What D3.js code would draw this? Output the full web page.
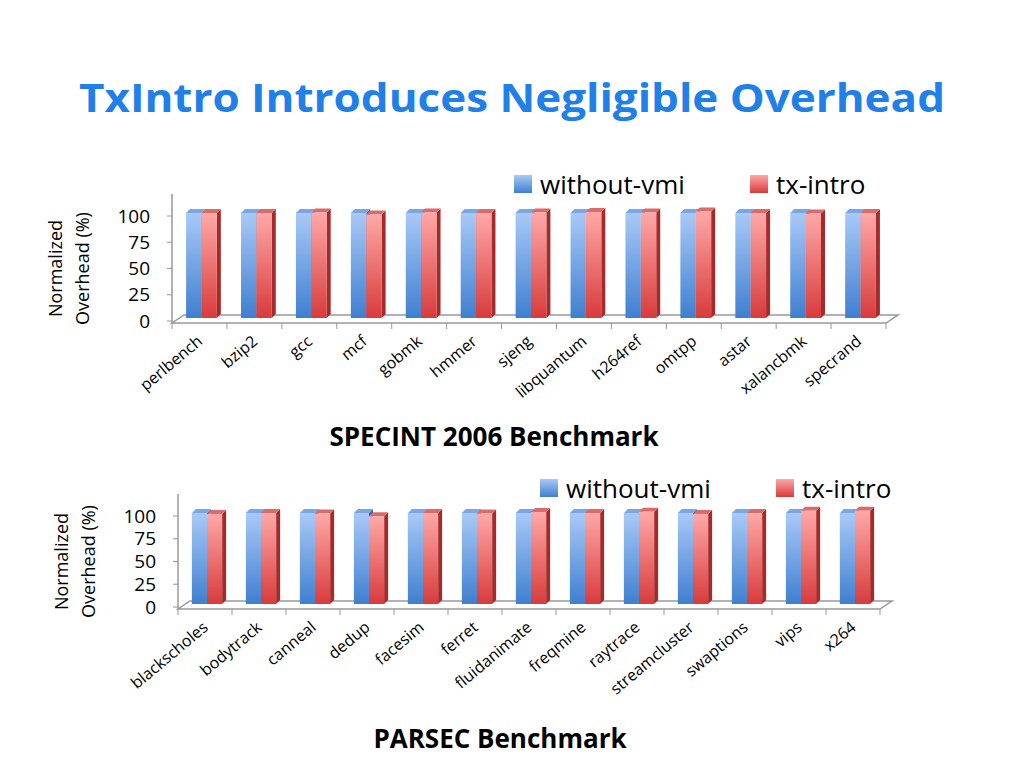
<!DOCTYPE html>
<html><head><meta charset="utf-8">
<script src="https://cdn.jsdelivr.net/npm/d3@7"></script>
<style>body{margin:0;background:#fff}svg{font-family:"Open Sans",sans-serif}</style>
</head><body><svg width="1024" height="768"></svg>
<script>
const specCats = ['perlbench','bzip2','gcc','mcf','gobmk','hmmer','sjeng','libquantum','h264ref','omtpp','astar','xalancbmk','specrand'];
const specBase = [100,100,100,100,100,100,100,100,100,100,100,100,100];
const specTx   = [100,100,100.5,98.5,100.5,100,100.5,101,100.5,101.5,100,99.5,100];
const parCats = ['blackscholes','bodytrack','canneal','dedup','facesim','ferret','fluidanimate','freqmine','raytrace','streamcluster','swaptions','vips','x264'];
const parBase = [100,100,100,100,100,100,100,100,100,100,100,100,100];
const parTx   = [99,100,99.5,96.5,100,99.5,101,100,101.5,99,100,102.5,102.5];
const yTicks = [0,25,50,75,100];

const svg = d3.select('svg');
const defs = svg.append('defs');
function grad(id, top, bottom) {
  const g = defs.append('linearGradient').attr('id', id).attr('x1',0).attr('y1',0).attr('x2',0).attr('y2',1);
  g.append('stop').attr('offset','0%').attr('stop-color',top);
  g.append('stop').attr('offset','100%').attr('stop-color',bottom);
}
grad('gb', '#a9c9f7', '#3f7fd0');
grad('gr', '#ffa8a8', '#d83b3b');

svg.append('text').attr('x',512).attr('y',112).attr('text-anchor','middle')
  .attr('font-size',40).attr('font-weight','bold').attr('fill','#1f80ea')
  .attr('textLength',866).attr('lengthAdjust','spacingAndGlyphs')
  .text('TxIntro Introduces Negligible Overhead');

function chart(o) {
  const g = svg.append('g');
  const x = d3.scaleBand().domain(o.cats).range([o.x0, o.x1]);
  const y = d3.scaleLinear().domain([0,100]).range([o.y0, o.y100]);
  const dx = 12, dy = 8;
  // floor
  g.append('path').attr('fill','none').attr('stroke','#999').attr('stroke-width',1.5)
    .attr('d', `M${o.x0},${o.y0+2}L${o.x1},${o.y0+2}L${o.x1+dx},${o.y0+2-dy}L${o.x0+dx},${o.y0+2-dy}Z`);
  g.append('line').attr('x1',o.x0).attr('x2',o.x0).attr('y1',o.y100-22).attr('y2',o.y0+2)
    .attr('stroke','#999').attr('stroke-width',1.5);
  yTicks.forEach(t => {
    g.append('line').attr('x1',o.x0-5).attr('x2',o.x0).attr('y1',y(t)).attr('y2',y(t)).attr('stroke','#999');
    g.append('text').attr('x',o.x0-22).attr('y',y(t)).attr('dy','0.35em').attr('text-anchor','end')
      .attr('font-size',19).attr('fill','#000').text(t);
  });
  o.cats.forEach((c,i) => {
    g.append('line').attr('x1',x(c)).attr('x2',x(c)).attr('y1',o.y0+2).attr('y2',o.y0+8).attr('stroke','#999');
  });
  g.append('line').attr('x1',o.x1).attr('x2',o.x1).attr('y1',o.y0+2).attr('y2',o.y0+8).attr('stroke','#999');
  const bw = x.bandwidth()*0.28, d = 4, base = o.y0 - 3;
  o.cats.forEach((c,i) => {
    const cx = x(c) + x.bandwidth()*0.5 + 2;
    [[o.a[i],'gb','#2f65ad','#7aa6e6',cx-bw],[o.b[i],'gr','#a72a2a','#d86b6b',cx]].forEach(([v,gid,side,top,bx]) => {
      const yt = base - (o.y0 - y(v));
      g.append('path').attr('fill',side)
        .attr('d',`M${bx+bw},${yt}L${bx+bw+d},${yt-d}L${bx+bw+d},${base-d}L${bx+bw},${base}Z`);
      g.append('path').attr('fill',top)
        .attr('d',`M${bx},${yt}L${bx+d},${yt-d}L${bx+bw+d},${yt-d}L${bx+bw},${yt}Z`);
      g.append('rect').attr('x',bx).attr('y',yt).attr('width',bw).attr('height',base-yt).attr('fill',`url(#${gid})`);
    });
  });
  o.cats.forEach(c => {
    const cx = x(c) + x.bandwidth()/2 + 4;
    g.append('text').attr('transform',`translate(${cx},${o.y0+22}) rotate(-40)`)
      .attr('text-anchor','end').attr('font-size',o.lfs).attr('fill','#000').text(c);
  });
  const yl = g.append('text').attr('transform',`translate(${o.x0-110},${(o.y0+o.y100)/2}) rotate(-90)`)
    .attr('text-anchor','middle').attr('font-size',18);
  yl.append('tspan').attr('x',0).attr('dy',0).text('Normalized');
  yl.append('tspan').attr('x',0).attr('dy',27).text('Overhead (%)');
  g.append('text').attr('x',o.titleX).attr('y',o.titleY).attr('text-anchor','middle')
    .attr('font-size',26).attr('font-weight','bold').text(o.title);
  // legend
  [['without-vmi','gb',o.legX],['tx-intro','gr',o.legX+236]].forEach(([t,gid,lx]) => {
    g.append('rect').attr('x',lx).attr('y',o.legY-10).attr('width',18).attr('height',18).attr('fill',`url(#${gid})`);
    g.append('text').attr('x',lx+26).attr('y',o.legY).attr('dy','0.35em').attr('font-size',26).text(t);
  });
}

chart({cats:specCats,a:specBase,b:specTx,x0:172,x1:886,y0:321,y100:216,lfs:16,
  title:'SPECINT 2006 Benchmark',titleX:494,titleY:446,legX:514,legY:185});
chart({cats:parCats,a:parBase,b:parTx,x0:178,x1:880,y0:607,y100:516,lfs:16,
  title:'PARSEC Benchmark',titleX:500,titleY:748,legX:540,legY:489});
</script></body></html>
